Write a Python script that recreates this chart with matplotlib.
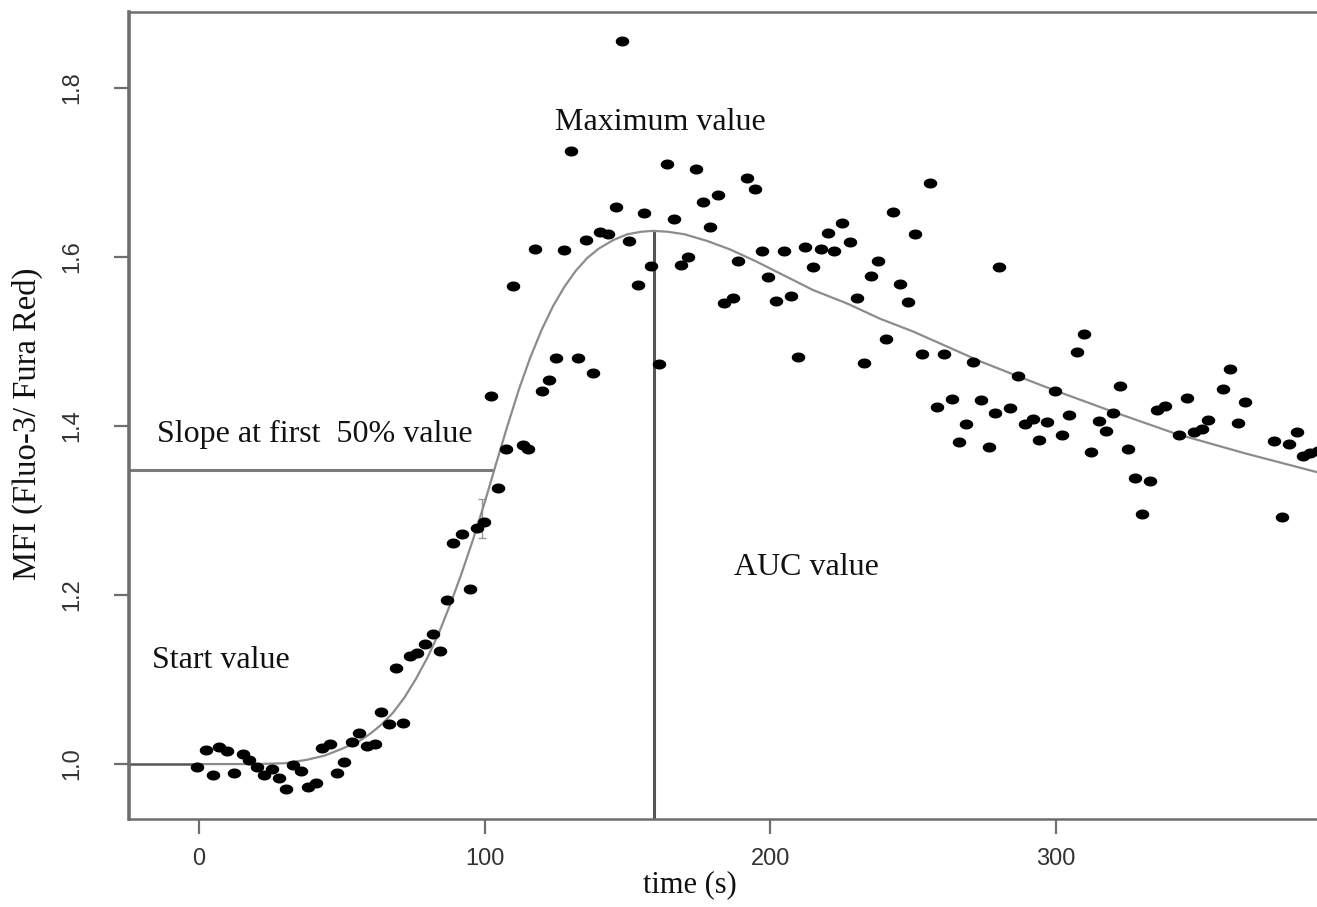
import matplotlib
matplotlib.use("Agg")
import matplotlib.pyplot as plt
import numpy as np

# ---- data ----
time_s = [
    -0.6, 2.3, 4.8, 7.1, 9.7, 12.4, 15.3, 17.6, 20.2, 22.8, 25.5, 27.9, 30.4, 32.9,
    35.7, 38.1, 40.9, 43.1, 45.9, 48.3, 50.9, 53.5, 56.0, 58.7, 61.6, 63.7, 66.4,
    68.9, 71.6, 73.9, 76.5, 79.3, 81.9, 84.4, 86.8, 89.1, 92.0, 94.8, 97.3, 99.9,
    102.2, 104.8, 107.4, 109.8, 113.3, 115.3, 117.7, 120.0, 122.6, 125.0, 127.7,
    130.3, 132.9, 135.5, 137.9, 140.5, 143.4, 145.9, 148.3, 150.7, 153.6, 156.0,
    158.3, 161.1, 163.8, 166.4, 168.7, 171.4, 173.9, 176.6, 179.1, 181.7, 184.0,
    186.9, 188.7, 191.8, 194.7, 197.1, 199.4, 202.1, 204.7, 207.4, 209.9, 212.3,
    214.9, 217.8, 220.1, 222.4, 225.0, 227.8, 230.4, 232.9, 235.4, 237.9, 240.5,
    243.2, 245.5, 248.2, 250.8, 253.3, 256.0, 258.6, 260.9, 263.6, 266.3, 268.7,
    271.2, 273.9, 276.5, 278.8, 280.0, 284.1, 286.8, 289.1, 292.0, 294.3, 297.1,
    299.6, 302.2, 304.8, 307.4, 310.0, 312.4, 315.0, 317.6, 320.0, 322.6, 325.3,
    327.9, 330.2, 332.9, 335.4, 338.1, 343.3, 345.9, 348.6, 351.2, 353.5, 358.6,
    361.1, 363.7, 366.4, 376.3, 379.1, 381.6, 384.5, 386.6, 389.1, 392.0,
]
mfi = [
    0.996, 1.017, 0.987, 1.020, 1.016, 0.990, 1.012, 1.005, 0.996, 0.987, 0.994, 0.984, 0.971, 0.999,
    0.992, 0.973, 0.978, 1.019, 1.024, 0.990, 1.002, 1.026, 1.037, 1.021, 1.024, 1.062, 1.048,
    1.114, 1.049, 1.128, 1.132, 1.142, 1.154, 1.134, 1.194, 1.262, 1.272, 1.207, 1.279, 1.287,
    1.436, 1.327, 1.373, 1.566, 1.378, 1.373, 1.610, 1.441, 1.455, 1.481, 1.608,
    1.725, 1.480, 1.620, 1.463, 1.630, 1.627, 1.659, 1.856, 1.619, 1.567, 1.652,
    1.589, 1.474, 1.710, 1.645, 1.591, 1.600, 1.704, 1.665, 1.635, 1.673, 1.546,
    1.551, 1.595, 1.693, 1.681, 1.607, 1.576, 1.548, 1.607, 1.554, 1.482, 1.612,
    1.588, 1.609, 1.629, 1.607, 1.640, 1.618, 1.552, 1.475, 1.577, 1.595, 1.503,
    1.653, 1.568, 1.547, 1.627, 1.485, 1.688, 1.422, 1.485, 1.432, 1.381, 1.402,
    1.476, 1.431, 1.375, 1.415, 1.588, 1.421, 1.459, 1.402, 1.408, 1.383, 1.405,
    1.441, 1.389, 1.413, 1.488, 1.509, 1.369, 1.406, 1.394, 1.416, 1.447, 1.373,
    1.338, 1.296, 1.335, 1.419, 1.424, 1.389, 1.433, 1.393, 1.396, 1.407, 1.444,
    1.467, 1.404, 1.428, 1.382, 1.292, 1.379, 1.393, 1.365, 1.368, 1.370,
]

# fitted curve
fit_t = [0, 10, 20, 30, 37.7, 44, 50, 56, 60, 64, 68, 72, 76, 80, 84, 88, 92, 96,
         100, 104, 108, 112, 116, 120, 124, 128, 132, 136, 140, 145, 150, 155, 159,
         164, 170, 178, 186, 195, 205, 215, 227, 238.5, 250, 262, 274, 286, 299,
         320, 342, 366, 392]
fit_y = [1.000, 1.000, 1.000, 1.001, 1.005, 1.010, 1.018, 1.027, 1.036, 1.047, 1.061,
         1.079, 1.101, 1.126, 1.155, 1.189, 1.226, 1.266, 1.309, 1.355, 1.400, 1.443,
         1.481, 1.514, 1.542, 1.565, 1.584, 1.599, 1.610, 1.620, 1.627, 1.630, 1.631,
         1.630, 1.627, 1.619, 1.609, 1.595, 1.578, 1.561, 1.545, 1.527, 1.512, 1.494,
         1.476, 1.460, 1.443, 1.417, 1.391, 1.368, 1.345]

START_VAL = 1.0
HALF_T, HALF_VAL = 103.0, 1.348
PEAK_T, PEAK_VAL = 159.5, 1.631

x_ticks = [0, 100, 200, 300]
y_ticks = [1.0, 1.2, 1.4, 1.6, 1.8]

# ---- style ----
SERIF = ["Liberation Serif", "DejaVu Serif"]
SANS = ["Liberation Sans", "DejaVu Sans"]
AXC = "#6E6E6E"

fig = plt.figure(figsize=(13.17, 9.07), dpi=100)
ax = fig.add_axes([129 / 1317, 1 - 819 / 907, 1 - 129 / 1317, (819 - 12) / 907])
ax.set_xlim(-24.5, 391.5)
ax.set_ylim(0.935, 1.890)

# annotation lines
ax.plot([-24.5, 0], [START_VAL, START_VAL], color="#555555", lw=1.8, zorder=2)
ax.plot([-24.5, HALF_T], [HALF_VAL, HALF_VAL], color="#7A7A7A", lw=2.2, zorder=2)
ax.plot([PEAK_T, PEAK_T], [0.935, PEAK_VAL], color="#555555", lw=2.2, zorder=2)
ax.errorbar([99.0], [1.291], yerr=[0.023], color="#999999", lw=1.0, capsize=3, zorder=2)

# fitted curve
ax.plot(fit_t, fit_y, color="#8C8C8C", lw=1.6, zorder=3)

# points (slightly flattened dots)
th = np.linspace(0, 2 * np.pi, 40)
ell = np.column_stack([1.35 * np.cos(th), np.sin(th)])
ax.scatter(time_s, mfi, marker=ell, s=95, color="black", linewidths=0, zorder=4)

# labels inside the plot
tkw = dict(family=SERIF, fontsize=23, color="#111111")
ax.text(161.5, 1.759, "Maximum value", ha="center", va="center", **tkw)
ax.text(-14.8, 1.390, "Slope at first  50% value", ha="left", va="center", **tkw)
ax.text(-16.5, 1.122, "Start value", ha="left", va="center", **tkw)
ax.text(187.5, 1.233, "AUC value", ha="left", va="center", **tkw)

# axes styling (R base look)
for side in ("left", "top", "bottom"):
    ax.spines[side].set_color(AXC)
    ax.spines[side].set_linewidth(1.8)
ax.spines["left"].set_linewidth(2.6)
ax.spines["right"].set_visible(False)

ax.set_xticks(x_ticks)
ax.set_xticklabels([str(v) for v in x_ticks], family=SANS, fontsize=17, color="#333333")
ax.set_yticks(y_ticks)
ax.set_yticklabels([f"{v:.1f}" for v in y_ticks], family=SANS, fontsize=17,
                   color="#333333", rotation=90, va="center")
ax.tick_params(axis="both", length=11, width=1.6, color=AXC)
ax.tick_params(axis="x", pad=10)
ax.tick_params(axis="y", pad=22)

ax.set_xlabel("time (s)", family=SERIF, fontsize=22, color="#111111")
ax.xaxis.set_label_coords(0.472, -0.064)
ax.set_ylabel("MFI (Fluo-3/ Fura Red)", family=SERIF, fontsize=23.5, color="#111111")
ax.yaxis.set_label_coords(-0.072, 0.49)

fig.savefig("out.png", dpi=100, facecolor="white")
